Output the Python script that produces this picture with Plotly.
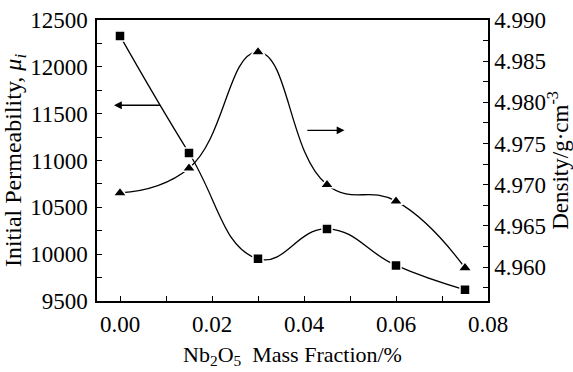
import plotly.graph_objects as go

x_frac = [0.000, 0.015, 0.030, 0.045, 0.060, 0.075]
permeability = [12330, 11080, 9950, 10270, 9880, 9620]
density = [4.9690, 4.9720, 4.9861, 4.9700, 4.9680, 4.9599]

x_ticks = [0.00, 0.02, 0.04, 0.06, 0.08]
left_ticks = [9500, 10000, 10500, 11000, 11500, 12000, 12500]
right_ticks = [4.960, 4.965, 4.970, 4.975, 4.980, 4.985, 4.990]

FONT = "Liberation Serif, Times New Roman, serif"
TICK = 23

fig = go.Figure()
fig.add_trace(go.Scatter(
    x=x_frac, y=permeability, mode="lines+markers",
    line=dict(color="black", width=1.3, shape="spline", smoothing=1.3),
    marker=dict(symbol="square", size=10, color="black", line=dict(color="white", width=1.5)),
    yaxis="y", showlegend=False))
fig.add_trace(go.Scatter(
    x=x_frac, y=density, mode="lines+markers",
    line=dict(color="black", width=1.3, shape="spline", smoothing=1.3),
    marker=dict(symbol="triangle-up", size=12, color="black", line=dict(color="white", width=1.5)),
    yaxis="y2", showlegend=False))

fig.update_layout(
    width=573, height=372,
    margin=dict(l=97, r=85, t=20, b=71),
    paper_bgcolor="white", plot_bgcolor="white",
    font=dict(family=FONT, size=TICK, color="black"),
    xaxis=dict(
        range=[-0.005, 0.08], tickvals=x_ticks, ticktext=["%.2f" % v for v in x_ticks],
        tickfont_size=TICK, mirror=True, automargin=False, ticklabelstandoff=2,
        showline=True, linecolor="black", linewidth=1.5, ticks="inside",
        tickcolor="black", tickwidth=1.3, ticklen=5, showgrid=False, zeroline=False,
        minor=dict(ticks="inside", ticklen=5, tickcolor="black", tickwidth=1.3, dtick=0.01, tick0=0, showgrid=False),
        title=dict(text="Nb<sub>2</sub>O<sub>5</sub>  Mass Fraction/%", font=dict(family=FONT, size=22), standoff=10)),
    yaxis=dict(
        range=[9500, 12500], tickvals=left_ticks, ticktext=[str(v) for v in left_ticks],
        tickfont_size=TICK, automargin=False, ticklabelstandoff=3,
        showline=True, linecolor="black", linewidth=1.5, ticks="inside",
        tickcolor="black", tickwidth=1.3, ticklen=5, showgrid=False, zeroline=False,
        minor=dict(ticks="inside", ticklen=5, tickcolor="black", tickwidth=1.3, dtick=250, tick0=9500, showgrid=False),
        title=dict(text="Initial Permeability, <i>μ<sub>i</sub></i>", font=dict(family=FONT, size=24), standoff=2)),
    yaxis2=dict(
        range=[4.95588, 4.990], tickvals=right_ticks, ticktext=["%.3f" % v for v in right_ticks],
        overlaying="y", side="right", tickfont_size=TICK, automargin=False,
        showline=True, linecolor="black", linewidth=1.5, ticks="inside",
        tickcolor="black", tickwidth=1.3, ticklen=5, showgrid=False, zeroline=False,
        minor=dict(ticks="inside", ticklen=5, tickcolor="black", tickwidth=1.3, dtick=0.0025, tick0=4.96, showgrid=False),
        title=dict(text="Density/g·cm<sup>-3</sup>", font=dict(family=FONT, size=23), standoff=3)),
)

# arrows indicating which axis each curve belongs to
fig.add_annotation(x=-0.0013, y=11590, ax=0.009, ay=11590, xref="x", yref="y",
                   axref="x", ayref="y", showarrow=True, arrowhead=2, arrowsize=1.2,
                   arrowwidth=1.3, arrowcolor="black", text="")
fig.add_annotation(x=0.0488, y=4.9766, ax=0.0404, ay=4.9766, xref="x", yref="y2",
                   axref="x", ayref="y2", showarrow=True, arrowhead=2, arrowsize=1.2,
                   arrowwidth=1.3, arrowcolor="black", text="")

fig.write_html("out.html")
